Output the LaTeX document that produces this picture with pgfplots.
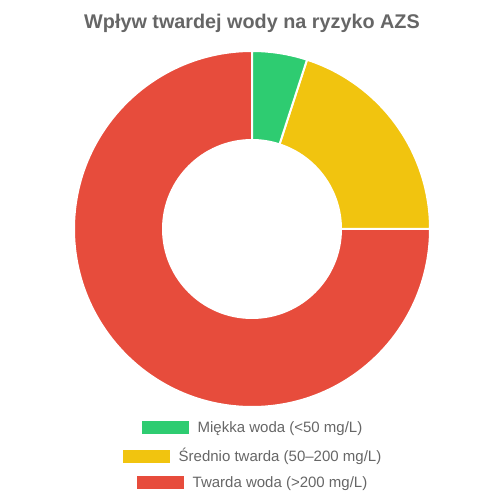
\documentclass[border=0pt]{standalone}
\usepackage{pgfplots}
\pgfplotsset{compat=1.18}
\usepackage{pgfplotstable}
\usepackage{fontspec}
\setmainfont{Liberation Sans}
\definecolor{cgreen}{HTML}{2ECC71}
\definecolor{cyellow}{HTML}{F1C40F}
\definecolor{cred}{HTML}{E74C3C}
\definecolor{ctext}{HTML}{666666}
\pgfplotstableread{
label value
soft 5
mid 20
hard 75
}\datatable
\pgfplotstablegetelem{0}{value}\of\datatable \let\va\pgfplotsretval
\pgfplotstablegetelem{1}{value}\of\datatable \let\vb\pgfplotsretval
\pgfplotstablegetelem{2}{value}\of\datatable \let\vc\pgfplotsretval
\pgfmathsetmacro{\tot}{\va+\vb+\vc}
\pgfmathsetmacro{\aA}{90}
\pgfmathsetmacro{\aB}{90-360*\va/\tot}
\pgfmathsetmacro{\aC}{90-360*(\va+\vb)/\tot}
\pgfmathsetmacro{\aD}{90-360}
\newcommand{\donutwedge}[3]{%
  \fill[#1, draw=white, line width=2pt, line join=miter]
    (axis cs:{cos(#2)},{sin(#2)}) arc[start angle=#2, end angle=#3, radius=178pt]
    -- (axis cs:{0.5*cos(#3)},{0.5*sin(#3)}) arc[start angle=#3, end angle=#2, radius=89pt]
    -- cycle;}
\newcommand{\legentry}[3]{%
  \node[text=ctext, font=\fontsize{15}{17}\selectfont, inner sep=0pt] at (252,#1)
    {\textcolor{#2}{\rule[-1.5pt]{47pt}{13pt}}\hspace{9pt}#3};}
\begin{document}%
\begin{tikzpicture}[x=1pt,y=1pt]
\path (0,0) rectangle (504,504);
\begin{axis}[
  at={(252pt,275pt)}, anchor=center,
  scale only axis, width=356pt, height=356pt,
  xmin=-1, xmax=1, ymin=-1, ymax=1,
  hide axis, clip=false]
\donutwedge{cred}{\aC}{\aD}
\donutwedge{cyellow}{\aB}{\aC}
\donutwedge{cgreen}{\aA}{\aB}
\end{axis}
\node[text=ctext, font=\fontsize{19.8}{22}\selectfont\bfseries] at (252,481) {Wpływ twardej wody na ryzyko AZS};
\legentry{76}{cgreen}{Miękka woda (<50 mg/L)}
\legentry{48}{cyellow}{Średnio twarda (50–200 mg/L)}
\legentry{21}{cred}{Twarda woda (>200 mg/L)}
\end{tikzpicture}%
\end{document}
